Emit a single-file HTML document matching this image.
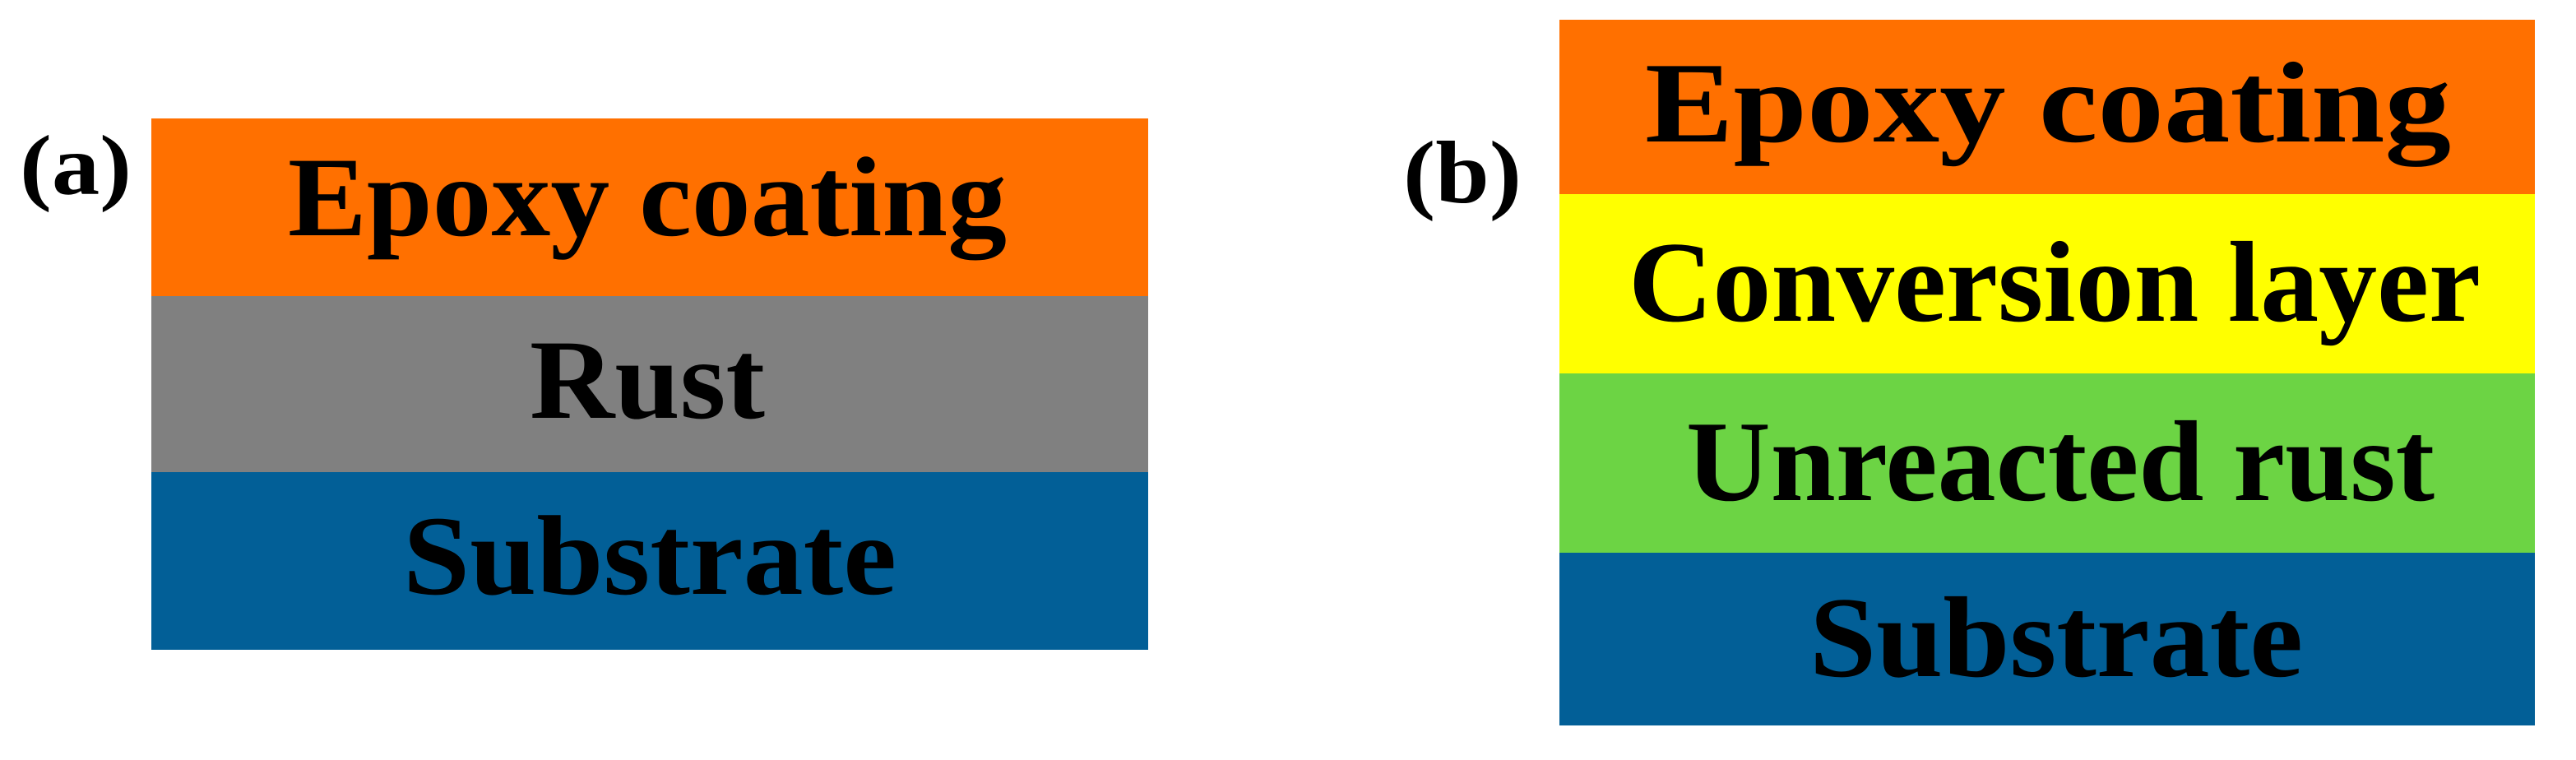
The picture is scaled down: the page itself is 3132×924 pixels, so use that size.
<!DOCTYPE html>
<html><head><meta charset="utf-8"><style>
html,body{margin:0;padding:0;background:#fff;width:3132px;height:924px;overflow:hidden}
svg text{font-family:"Liberation Serif",serif;font-weight:bold;fill:#000}
</style></head><body>
<svg width="3132" height="924" viewBox="0 0 3132 924" xmlns="http://www.w3.org/2000/svg">
<rect x="0" y="0" width="3132" height="924" fill="#fff"/>
<!-- (a) -->
<rect x="184" y="144" width="1212" height="216" fill="#ff7000"/>
<rect x="184" y="360" width="1212" height="214" fill="#808080"/>
<rect x="184" y="574" width="1212" height="216" fill="#025f97"/>
<text x="24" y="236" font-size="104" textLength="136" lengthAdjust="spacingAndGlyphs">(a)</text>
<text x="350" y="286" font-size="138" textLength="874" lengthAdjust="spacingAndGlyphs">Epoxy coating</text>
<text x="644" y="508" font-size="138" textLength="286" lengthAdjust="spacingAndGlyphs">Rust</text>
<text x="490" y="722" font-size="138" textLength="600" lengthAdjust="spacingAndGlyphs">Substrate</text>
<!-- (b) -->
<rect x="1896" y="24" width="1186" height="212" fill="#ff7000"/>
<rect x="1896" y="236" width="1186" height="218" fill="#ffff00"/>
<rect x="1896" y="454" width="1186" height="218" fill="#6cd444"/>
<rect x="1896" y="672" width="1186" height="210" fill="#025f97"/>
<text x="1706" y="246" font-size="108" textLength="144" lengthAdjust="spacingAndGlyphs">(b)</text>
<text x="2000" y="172" font-size="140" textLength="980" lengthAdjust="spacingAndGlyphs">Epoxy coating</text>
<text x="1980" y="390" font-size="140" textLength="1036" lengthAdjust="spacingAndGlyphs">Conversion layer</text>
<text x="2050" y="608" font-size="140" textLength="910" lengthAdjust="spacingAndGlyphs">Unreacted rust</text>
<text x="2200" y="822" font-size="140" textLength="600" lengthAdjust="spacingAndGlyphs">Substrate</text>
</svg>
</body></html>
